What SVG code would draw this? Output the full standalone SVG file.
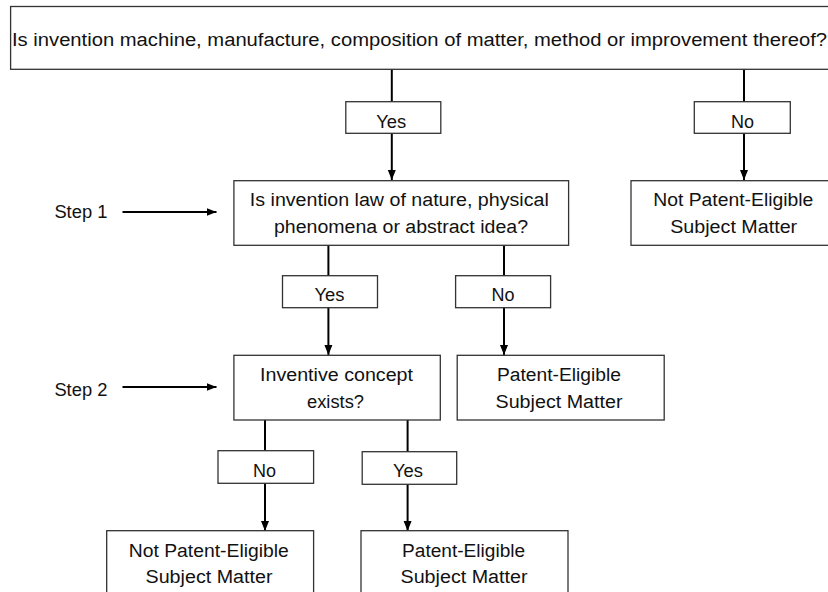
<svg xmlns="http://www.w3.org/2000/svg" width="828" height="592" viewBox="0 0 828 592">
<defs>
<marker id="ah" viewBox="0 0 10 10" refX="10" refY="5" markerWidth="10" markerHeight="10" markerUnits="userSpaceOnUse" orient="auto">
<path d="M0,1 L10,5 L0,9 Z" fill="#000"/>
</marker>
<style>
.box{fill:#fff;stroke:#333;stroke-width:1.3}
.t{font-family:"Liberation Sans",Arial,sans-serif;font-size:18px;fill:#111;text-anchor:middle}
.tl{font-family:"Liberation Sans",Arial,sans-serif;font-size:18px;fill:#111}
.c{stroke:#000;stroke-width:2;fill:none}
.a{stroke:#000;stroke-width:2;fill:none;marker-end:url(#ah)}
</style>
</defs>
<rect width="828" height="592" fill="#fff"/>
<g id="connectors">
<line class="c" x1="391.8" y1="69" x2="391.8" y2="102"/>
<line class="a" x1="391.8" y1="133" x2="391.8" y2="180"/>
<line class="c" x1="744" y1="69" x2="744" y2="102"/>
<line class="a" x1="744" y1="133" x2="744" y2="180"/>
<line class="c" x1="328.4" y1="245" x2="328.4" y2="276"/>
<line class="a" x1="328.4" y1="308" x2="328.4" y2="355"/>
<line class="c" x1="504" y1="245" x2="504" y2="276"/>
<line class="a" x1="504" y1="308" x2="504" y2="355"/>
<line class="c" x1="265" y1="420" x2="265" y2="451"/>
<line class="a" x1="265" y1="483" x2="265" y2="531"/>
<line class="c" x1="407.6" y1="420" x2="407.6" y2="452"/>
<line class="a" x1="407.6" y1="484" x2="407.6" y2="531"/>
<line class="a" x1="122.5" y1="212" x2="216.5" y2="212"/>
<line class="a" x1="122.5" y1="387" x2="216.5" y2="387"/>
</g>
<g id="top">
<rect class="box" x="10.6" y="6.5" width="830" height="62.8"/>
<text class="tl" x="12" y="46" textLength="815" lengthAdjust="spacingAndGlyphs">Is invention machine, manufacture, composition of matter, method or improvement thereof?</text>
</g>
<g id="yes1">
<rect class="box" x="345.8" y="101.7" width="95" height="31.6"/>
<text class="t" x="391.3" y="128" textLength="30" lengthAdjust="spacingAndGlyphs">Yes</text>
</g>
<g id="no1">
<rect class="box" x="694.3" y="101.7" width="96" height="31.6"/>
<text class="t" x="742.5" y="128" textLength="23" lengthAdjust="spacingAndGlyphs">No</text>
</g>
<g id="step1label">
<text class="tl" x="54.4" y="218" textLength="53" lengthAdjust="spacingAndGlyphs">Step 1</text>
</g>
<g id="step1">
<rect class="box" x="233.9" y="180.7" width="334.7" height="64.6"/>
<text class="t" x="399.3" y="206" textLength="299" lengthAdjust="spacingAndGlyphs">Is invention law of nature, physical</text>
<text class="t" x="401" y="233" textLength="254" lengthAdjust="spacingAndGlyphs">phenomena or abstract idea?</text>
</g>
<g id="notEligible1">
<rect class="box" x="631" y="180.7" width="210" height="64.6"/>
<text class="t" x="733.3" y="206" textLength="160" lengthAdjust="spacingAndGlyphs">Not Patent-Eligible</text>
<text class="t" x="733.7" y="233" textLength="127" lengthAdjust="spacingAndGlyphs">Subject Matter</text>
</g>
<g id="yes2">
<rect class="box" x="282.5" y="275.7" width="95" height="32"/>
<text class="t" x="329.5" y="301" textLength="30" lengthAdjust="spacingAndGlyphs">Yes</text>
</g>
<g id="no2">
<rect class="box" x="455.6" y="275.7" width="95" height="32"/>
<text class="t" x="503" y="301" textLength="23" lengthAdjust="spacingAndGlyphs">No</text>
</g>
<g id="step2label">
<text class="tl" x="54.4" y="396" textLength="53" lengthAdjust="spacingAndGlyphs">Step 2</text>
</g>
<g id="step2">
<rect class="box" x="233.9" y="355.3" width="206.4" height="64.7"/>
<text class="t" x="336.5" y="381" textLength="153" lengthAdjust="spacingAndGlyphs">Inventive concept</text>
<text class="t" x="335.5" y="408" textLength="57" lengthAdjust="spacingAndGlyphs">exists?</text>
</g>
<g id="eligible1">
<rect class="box" x="457.2" y="355.3" width="207" height="64.7"/>
<text class="t" x="559" y="381" textLength="124" lengthAdjust="spacingAndGlyphs">Patent-Eligible</text>
<text class="t" x="559" y="408" textLength="127" lengthAdjust="spacingAndGlyphs">Subject Matter</text>
</g>
<g id="no3">
<rect class="box" x="218" y="450.7" width="95.6" height="32.6"/>
<text class="t" x="264.5" y="477" textLength="23" lengthAdjust="spacingAndGlyphs">No</text>
</g>
<g id="yes3">
<rect class="box" x="362.2" y="451.7" width="94.5" height="32.6"/>
<text class="t" x="408" y="477" textLength="30" lengthAdjust="spacingAndGlyphs">Yes</text>
</g>
<g id="notEligible2">
<rect class="box" x="106.7" y="530.7" width="206.9" height="70"/>
<text class="t" x="208.8" y="557" textLength="160" lengthAdjust="spacingAndGlyphs">Not Patent-Eligible</text>
<text class="t" x="209" y="583" textLength="127" lengthAdjust="spacingAndGlyphs">Subject Matter</text>
</g>
<g id="eligible2">
<rect class="box" x="361" y="530.7" width="207" height="70"/>
<text class="t" x="463.6" y="557" textLength="123" lengthAdjust="spacingAndGlyphs">Patent-Eligible</text>
<text class="t" x="464" y="583" textLength="127" lengthAdjust="spacingAndGlyphs">Subject Matter</text>
</g>
</svg>
